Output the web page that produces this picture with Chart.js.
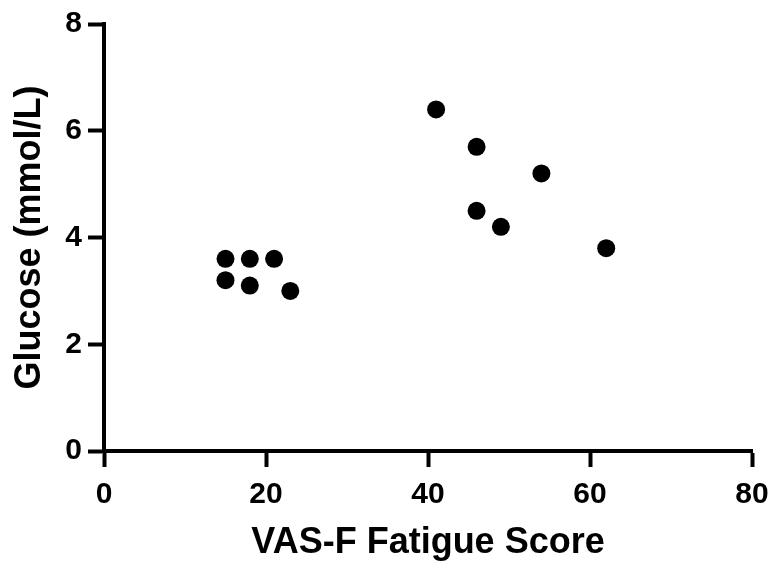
<!DOCTYPE html>
<html>
<head>
<meta charset="utf-8">
<script src="https://cdn.jsdelivr.net/npm/chart.js@4.4.1/dist/chart.umd.min.js"></script>
<style>
  html, body { margin: 0; padding: 0; background: #fff; }
  #wrap { width: 772px; height: 565px; position: relative; }
</style>
</head>
<body>
<div id="wrap"><canvas id="scatterChart"></canvas></div>
<script>
// VAS-F fatigue score vs glucose, one point per subject
const fatigueScores = [15, 15, 18, 18, 21, 23, 41, 46, 46, 49, 54, 62];
const glucoseValues = [3.6, 3.2, 3.6, 3.1, 3.6, 3.0, 6.4, 5.7, 4.5, 4.2, 5.2, 3.8];

const xTicks = [0, 20, 40, 60, 80];
const yTicks = [0, 2, 4, 6, 8];

const points = fatigueScores.map((x, i) => ({ x: x, y: glucoseValues[i] }));

const fontFamily = "Arial, 'Liberation Sans', Helvetica, sans-serif";
Chart.defaults.font.family = fontFamily;
Chart.defaults.color = '#000';

const ctx = document.getElementById('scatterChart').getContext('2d');
const scatterChart = new Chart(ctx, {
  type: 'scatter',
  data: {
    datasets: [{
      label: 'Glucose',
      data: points,
      backgroundColor: '#000',
      borderColor: '#000',
      borderWidth: 0,
      pointRadius: 9,
      pointHoverRadius: 9,
      clip: false
    }]
  },
  options: {
    responsive: true,
    maintainAspectRatio: false,
    animation: false,
    layout: { padding: { top: 24, right: 20, bottom: 0, left: 0 } },
    plugins: {
      legend: { display: false },
      tooltip: { enabled: false }
    },
    scales: {
      x: {
        type: 'linear',
        min: xTicks[0],
        max: xTicks[xTicks.length - 1],
        afterBuildTicks: s => { s.ticks = xTicks.map(v => ({ value: v })); },
        afterFit: s => {
          s.height = 114;
          s.paddingLeft = 0;
          s.paddingRight = 0;
        },
        border: { display: true, color: '#000', width: 4 },
        grid: {
          drawOnChartArea: false,
          drawTicks: true,
          tickLength: 16,
          tickWidth: 4,
          tickColor: '#000'
        },
        ticks: {
          padding: 10,
          color: '#000',
          font: { size: 30, weight: 'bold' }
        },
        title: {
          display: true,
          text: 'VAS-F Fatigue Score',
          color: '#000',
          padding: { top: 0, bottom: 0 },
          font: { size: 36, weight: 'bold' }
        }
      },
      y: {
        type: 'linear',
        min: yTicks[0],
        max: yTicks[yTicks.length - 1],
        afterBuildTicks: s => { s.ticks = yTicks.map(v => ({ value: v })); },
        afterFit: s => {
          s.width = 104;
          s.paddingTop = 0;
          s.paddingBottom = 0;
        },
        border: { display: true, color: '#000', width: 4 },
        grid: {
          drawOnChartArea: false,
          drawTicks: true,
          tickLength: 16,
          tickWidth: 4,
          tickColor: '#000'
        },
        ticks: {
          padding: 6,
          color: '#000',
          font: { size: 30, weight: 'bold' }
        },
        title: {
          display: true,
          text: 'Glucose (mmol/L)',
          color: '#000',
          padding: { top: 8, bottom: 0 },
          font: { size: 36, weight: 'bold' }
        }
      }
    }
  }
});
</script>
</body>
</html>
